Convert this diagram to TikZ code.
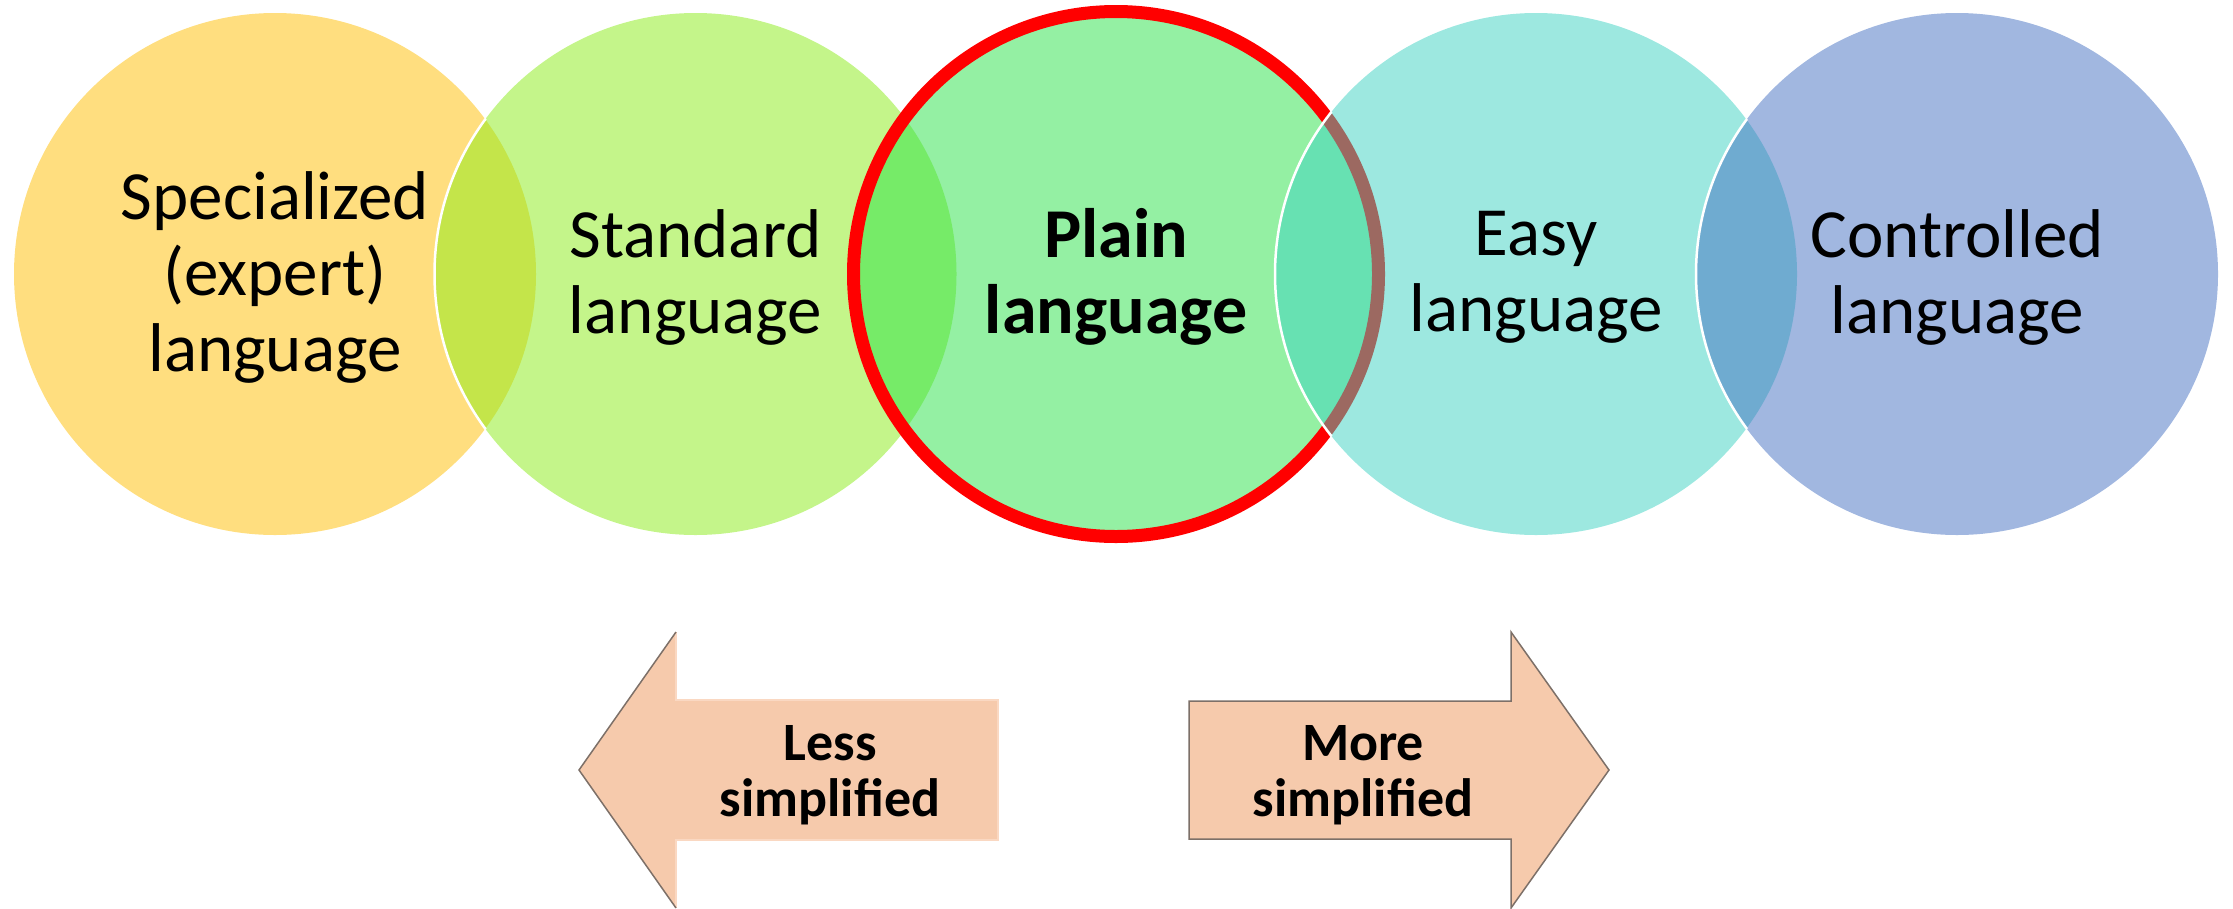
\documentclass[tikz,border=0pt]{standalone}
\usepackage{fontspec}
\setmainfont{Carlito}
\definecolor{cA}{RGB}{255,190,0}
\definecolor{cB}{RGB}{137,235,21}
\definecolor{cC}{RGB}{41,225,71}
\definecolor{cD}{RGB}{59,210,194}
\definecolor{cE}{RGB}{67,111,193}
\definecolor{peach}{RGB}{246,202,172}
\definecolor{peachedge}{RGB}{125,112,104}
\definecolor{peachpale}{RGB}{250,216,194}
\begin{document}
\begin{tikzpicture}[x=1pt,y=-1pt,
  venn/.style={circle, inner sep=0pt, minimum size=522pt, fill opacity=0.5},
  rim/.style={draw=white, line width=2.5pt},
  vtext/.style={align=center, font=\fontsize{69}{76}\selectfont},
  arrowbody/.style={fill=peach, draw=peachedge, line width=1.5pt, line join=miter},
  arrowtext/.style={align=center, font=\fontsize{54}{56}\selectfont\bfseries}]
\useasboundingbox (0,0) rectangle (2233,908);
% circles
\node[venn, fill=cA] (c1) at (275,274) {};
\node[venn, fill=cB] (c2) at (695.5,274) {};
\begin{scope}
  \clip (c1.center) circle (262pt);
  \draw[rim] (c2.center) circle (261pt);
\end{scope}
\node[venn, fill=cC] (c3) at (1116,274) {};
\draw[red, line width=13pt] (c3.center) circle (262.5pt);
\node[venn, fill=cD] (c4) at (1536,274) {};
\begin{scope}
  \clip (c3.center) circle (270pt);
  \draw[rim] (c4.center) circle (261pt);
\end{scope}
\node[venn, fill=cE] (c5) at (1957,274) {};
\begin{scope}
  \clip (c4.center) circle (262pt);
  \draw[rim] (c5.center) circle (261pt);
\end{scope}
% labels
\node[vtext] (t1) at (275,277) {Specialized\\(expert)\\language};
\node[vtext] (t2) at (695.5,277) {Standard\\language};
\node[vtext, font=\fontsize{70}{76}\selectfont\bfseries] (t3) at (1116,277) {Plain\\language};
\node[vtext] (t4) at (1536,277) {Easy\\language};
\node[vtext] (t5) at (1957,277) {Controlled\\language};
% arrows
\fill[peach] (579,770) -- (676,632) -- (676,700) -- (998,700) -- (998,840) -- (676,840) -- (676,908) -- cycle;
\draw[peachpale, line width=1.5pt] (676,632) -- (676,700) -- (998,700) -- (998,840) -- (676,840) -- (676,908);
\draw[peachedge, line width=1.5pt] (676,632) -- (579,770) -- (676,908);
\draw[arrowbody] (1189,701) -- (1511,701) -- (1511,632) -- (1609,770) -- (1511,908) -- (1511,839) -- (1189,839) -- cycle;
\node[arrowtext] (less) at (830,775) {Less\\simplified};
\node[arrowtext] (more) at (1363,775) {More\\simplified};
\end{tikzpicture}
\end{document}
